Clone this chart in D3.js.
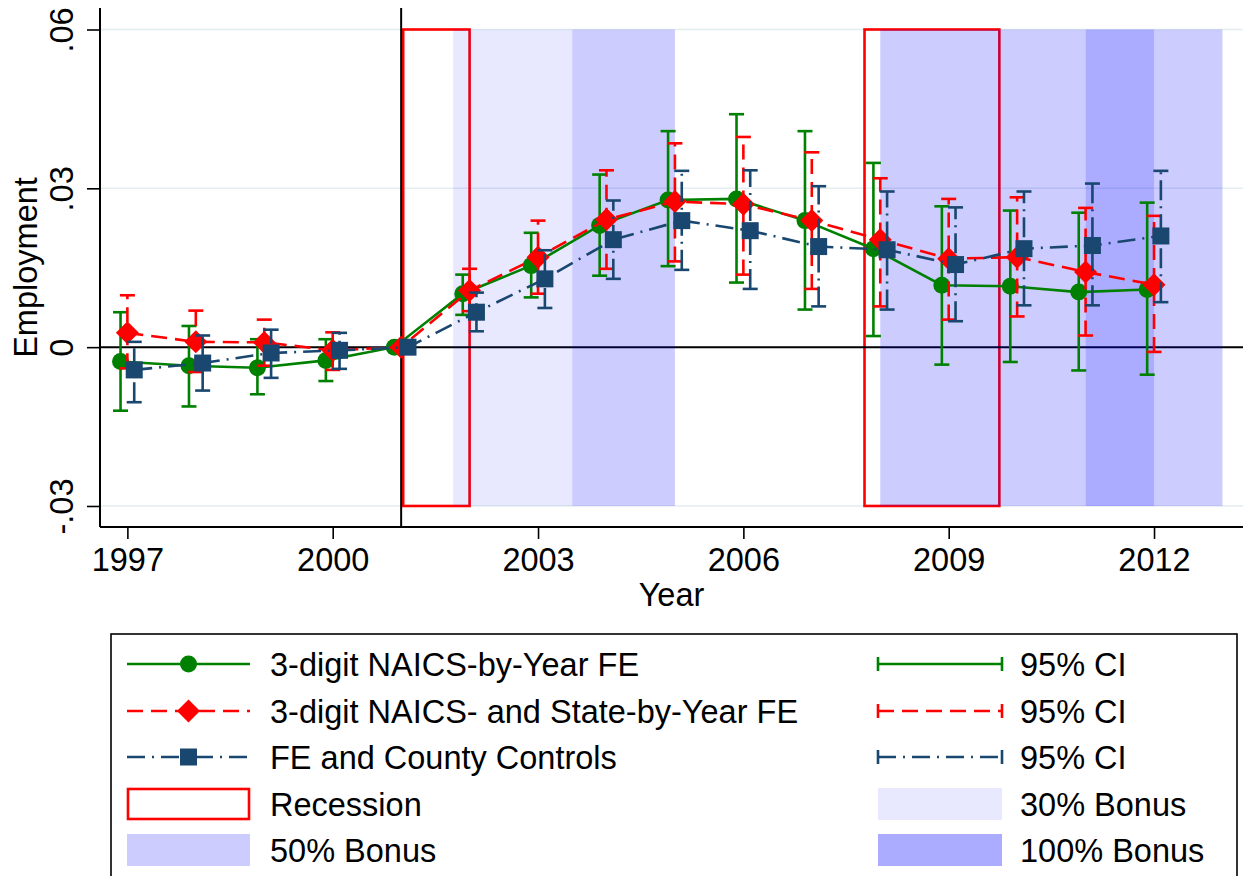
<!DOCTYPE html>
<html>
<head>
<meta charset="utf-8">
<script src="https://cdn.jsdelivr.net/npm/d3@7"></script>
<style>
body { margin: 0; background: #fff; }
svg { display: block; }
text { font-family: "Liberation Sans", Arial, Helvetica, sans-serif; fill: #000; }
</style>
</head>
<body>
<svg id="chart" width="1245" height="876"></svg>
<script>
// years of the event study
var years = [1997, 1998, 1999, 2000, 2001, 2002, 2003, 2004, 2005, 2006, 2007, 2008, 2009, 2010, 2011, 2012];

// 3-digit NAICS-by-Year FE
var greenEst = [-0.0027, -0.0035, -0.0039, -0.0025, 0, 0.0101, 0.0154, 0.0230, 0.0278, 0.0280, 0.0239, 0.0186, 0.0117, 0.0115, 0.0104, 0.0109];
var greenHi  = [0.0066, 0.0040, 0.0015, 0.0015, null, 0.0137, 0.0216, 0.0326, 0.0408, 0.0440, 0.0408, 0.0348, 0.0266, 0.0258, 0.0254, 0.0273];
var greenLo  = [-0.0120, -0.0112, -0.0089, -0.0064, null, 0.0061, 0.0094, 0.0135, 0.0153, 0.0122, 0.0071, 0.0021, -0.0033, -0.0028, -0.0044, -0.0052];

// 3-digit NAICS- and State-by-Year FE
var redEst = [0.0027, 0.0010, 0.0009, -0.0006, 0, 0.0107, 0.0170, 0.0241, 0.0275, 0.0270, 0.0239, 0.0203, 0.0167, 0.0170, 0.0142, 0.0118];
var redHi  = [0.0098, 0.0069, 0.0052, 0.0028, null, 0.0148, 0.0239, 0.0334, 0.0385, 0.0397, 0.0368, 0.0319, 0.0280, 0.0283, 0.0263, 0.0248];
var redLo  = [-0.0040, -0.0047, -0.0035, -0.0043, null, 0.0068, 0.0101, 0.0148, 0.0162, 0.0137, 0.0110, 0.0077, 0.0052, 0.0058, 0.0022, -0.0009];

// FE and County Controls
var blueEst = [-0.0043, -0.0030, -0.0011, -0.0006, 0, 0.0066, 0.0129, 0.0203, 0.0239, 0.0220, 0.0190, 0.0184, 0.0156, 0.0186, 0.0192, 0.0210];
var blueHi  = [0.0010, 0.0022, 0.0033, 0.0027, null, 0.0103, 0.0183, 0.0277, 0.0333, 0.0334, 0.0304, 0.0294, 0.0264, 0.0294, 0.0309, 0.0333];
var blueLo  = [-0.0104, -0.0082, -0.0058, -0.0041, null, 0.0030, 0.0074, 0.0129, 0.0146, 0.0110, 0.0077, 0.0071, 0.0049, 0.0079, 0.0079, 0.0085];

// periods
var recessions = [[2001.03, 2002.0], [2007.77, 2009.74]];
var bonus30  = [[2001.76, 2003.5]];
var bonus50  = [[2003.5, 2005.0], [2008.0, 2011.0], [2012.0, 2013.0]];
var bonus100 = [[2011.0, 2012.0]];

var xTicks = [1997, 2000, 2003, 2006, 2009, 2012];
var yTicks = [-0.03, 0, 0.03, 0.06];
var yTickLabels = ["-.03", "0", ".03", ".06"];

var svg = d3.select("#chart");
var pLeft = 100, pRight = 1243, pTop = 8, pBottom = 527;

var x = d3.scaleLinear().domain([1996.6, 2013.3]).range([pLeft, pRight]);
var y = d3.scaleLinear().domain([-0.03397, 0.06406]).range([pBottom, pTop]);

var FONT = 32.5;

// gridlines
svg.append("g").selectAll("line").data(yTicks.filter(function(d){ return d != 0; })).enter()
	.append("line")
	.attr("x1", pLeft).attr("x2", pRight)
	.attr("y1", function(d){ return y(d); }).attr("y2", function(d){ return y(d); })
	.attr("stroke", "#e4edef").attr("stroke-width", 1.6);

// recession boxes
svg.append("g").selectAll("rect").data(recessions).enter()
	.append("rect")
	.attr("x", function(d){ return x(d[0]); })
	.attr("width", function(d){ return x(d[1]) - x(d[0]); })
	.attr("y", y(0.06)).attr("height", y(-0.03) - y(0.06))
	.attr("fill", "none").attr("stroke", "#ff0000").attr("stroke-width", 2.6);

// zero line
svg.append("line")
	.attr("x1", pLeft).attr("x2", pRight).attr("y1", y(0)).attr("y2", y(0))
	.attr("stroke", "#000").attr("stroke-width", 2);

// bonus shading (translucent, over boxes and zero line)
function shade(data, op) {
	svg.append("g").selectAll("rect").data(data).enter()
		.append("rect")
		.attr("x", function(d){ return x(d[0]); })
		.attr("width", function(d){ return x(d[1]) - x(d[0]); })
		.attr("y", y(0.06)).attr("height", y(-0.03) - y(0.06))
		.attr("fill", "#0000ff").attr("fill-opacity", op);
}
shade(bonus30, 0.09);
shade(bonus50, 0.2);
shade(bonus100, 0.33);

// vertical line at 2001
svg.append("line")
	.attr("x1", x(2001)).attr("x2", x(2001)).attr("y1", pTop).attr("y2", pBottom)
	.attr("stroke", "#000").attr("stroke-width", 2);

// axes
var yAxis = svg.append("g").attr("transform", "translate(" + pLeft + ",0)")
	.call(d3.axisLeft(y).tickValues(yTicks).tickSize(13).tickPadding(12)
		.tickFormat(function(d, i){ return yTickLabels[i]; }));
yAxis.select(".domain").attr("d", "M0," + pTop + "V" + pBottom).attr("stroke-width", 2);
yAxis.selectAll(".tick line").attr("stroke-width", 1.6);
yAxis.selectAll(".tick text")
	.attr("font-size", FONT).attr("font-family", null)
	.attr("text-anchor", "middle")
	.attr("x", null).attr("dy", null)
	.attr("transform", "translate(-27,0) rotate(-90)");

var xAxis = svg.append("g").attr("transform", "translate(0," + pBottom + ")")
	.call(d3.axisBottom(x).tickValues(xTicks).tickSize(12).tickPadding(9).tickFormat(d3.format("d")));
xAxis.select(".domain").attr("d", "M" + pLeft + ",0H" + pRight).attr("stroke-width", 2);
xAxis.selectAll(".tick line").attr("stroke-width", 1.6);
xAxis.selectAll(".tick text").attr("font-size", FONT).attr("font-family", null);

svg.append("text").attr("x", (pLeft + pRight) / 2).attr("y", 606)
	.attr("text-anchor", "middle").attr("font-size", FONT).text("Year");
svg.append("text").attr("transform", "translate(37," + ((pTop + pBottom) / 2) + ") rotate(-90)")
	.attr("text-anchor", "middle").attr("font-size", FONT).text("Employment");

// series
var series = [
	{ est: greenEst, lo: greenLo, hi: greenHi, color: "#008000", off: -0.1, dash: null, ciDash: null, shape: "circle" },
	{ est: redEst, lo: redLo, hi: redHi, color: "#ff0000", off: 0, dash: "16,8", ciDash: "15,8", shape: "diamond" },
	{ est: blueEst, lo: blueLo, hi: blueHi, color: "#1a476f", off: 0.1, dash: "18,7,2,7", ciDash: "20,6,2,6", shape: "square" }
];

function marker(g, shape, color) {
	if (shape == "circle") g.append("circle").attr("r", 8.5).attr("fill", color);
	else if (shape == "diamond") g.append("path").attr("d", "M0,-11.5L11.5,0L0,11.5L-11.5,0Z").attr("fill", color);
	else g.append("rect").attr("x", -8.5).attr("y", -8.5).attr("width", 17).attr("height", 17).attr("fill", color);
}

var capW = 15;
series.forEach(function(s) {
	var g = svg.append("g");
	var ci = years.map(function(yr, i){ return { yr: yr, lo: s.lo[i], hi: s.hi[i] }; })
		.filter(function(d){ return d.lo != null; });
	var cg = g.append("g").selectAll("g").data(ci).enter().append("g");
	cg.append("line")
		.attr("x1", function(d){ return x(d.yr + s.off); }).attr("x2", function(d){ return x(d.yr + s.off); })
		.attr("y1", function(d){ return y(d.lo); }).attr("y2", function(d){ return y(d.hi); })
		.attr("stroke", s.color).attr("stroke-width", 2.6).attr("stroke-dasharray", s.ciDash);
	["lo", "hi"].forEach(function(k) {
		cg.append("line")
			.attr("x1", function(d){ return x(d.yr + s.off) - capW / 2; })
			.attr("x2", function(d){ return x(d.yr + s.off) + capW / 2; })
			.attr("y1", function(d){ return y(d[k]); }).attr("y2", function(d){ return y(d[k]); })
			.attr("stroke", s.color).attr("stroke-width", 2.6);
	});
	var line = d3.line().x(function(d, i){ return x(years[i] + s.off); }).y(function(d){ return y(d); });
	g.append("path").attr("d", line(s.est)).attr("fill", "none")
		.attr("stroke", s.color).attr("stroke-width", 2.6).attr("stroke-dasharray", s.dash);
	g.append("g").selectAll("g").data(s.est).enter().append("g")
		.attr("transform", function(d, i){ return "translate(" + x(years[i] + s.off) + "," + y(d) + ")"; })
		.each(function(){ marker(d3.select(this), s.shape, s.color); });
});

// legend
var lg = svg.append("g");
lg.append("rect").attr("x", 111).attr("y", 634).attr("width", 1126).attr("height", 260)
	.attr("fill", "#fff").attr("stroke", "#000").attr("stroke-width", 1.6);

var rowY = [664, 711, 757, 804, 850];
var labelsLeft = ["3-digit NAICS-by-Year FE", "3-digit NAICS- and State-by-Year FE", "FE and County Controls", "Recession", "50% Bonus"];
var labelsRight = ["95% CI", "95% CI", "95% CI", "30% Bonus", "100% Bonus"];
var lx0 = 127, lx1 = 250, rx0 = 878, rx1 = 1002;

series.forEach(function(s, i) {
	lg.append("line").attr("x1", lx0).attr("x2", lx1).attr("y1", rowY[i]).attr("y2", rowY[i])
		.attr("stroke", s.color).attr("stroke-width", 2.6).attr("stroke-dasharray", s.dash);
	marker(lg.append("g").attr("transform", "translate(" + ((lx0 + lx1) / 2) + "," + rowY[i] + ")"), s.shape, s.color);
	lg.append("line").attr("x1", rx0).attr("x2", rx1).attr("y1", rowY[i]).attr("y2", rowY[i])
		.attr("stroke", s.color).attr("stroke-width", 2.6).attr("stroke-dasharray", s.dash);
	[rx0, rx1].forEach(function(cx) {
		lg.append("line").attr("x1", cx).attr("x2", cx).attr("y1", rowY[i] - 7).attr("y2", rowY[i] + 7)
			.attr("stroke", s.color).attr("stroke-width", 2.6);
	});
});
lg.append("rect").attr("x", lx0 + 1).attr("y", rowY[3] - 15).attr("width", lx1 - lx0 - 2).attr("height", 30)
	.attr("fill", "#fff").attr("stroke", "#ff0000").attr("stroke-width", 2.6);
lg.append("rect").attr("x", lx0).attr("y", rowY[4] - 16).attr("width", lx1 - lx0).attr("height", 32)
	.attr("fill", "#0000ff").attr("fill-opacity", 0.2);
lg.append("rect").attr("x", rx0).attr("y", rowY[3] - 16).attr("width", rx1 - rx0).attr("height", 32)
	.attr("fill", "#0000ff").attr("fill-opacity", 0.09);
lg.append("rect").attr("x", rx0).attr("y", rowY[4] - 16).attr("width", rx1 - rx0).attr("height", 32)
	.attr("fill", "#0000ff").attr("fill-opacity", 0.33);

lg.selectAll("text.l").data(labelsLeft).enter().append("text")
	.attr("x", 270).attr("y", function(d, i){ return rowY[i]; }).attr("dy", "0.36em")
	.attr("font-size", FONT).text(function(d){ return d; });
lg.selectAll("text.r").data(labelsRight).enter().append("text")
	.attr("x", 1020).attr("y", function(d, i){ return rowY[i]; }).attr("dy", "0.36em")
	.attr("font-size", FONT).text(function(d){ return d; });
</script>
</body>
</html>
